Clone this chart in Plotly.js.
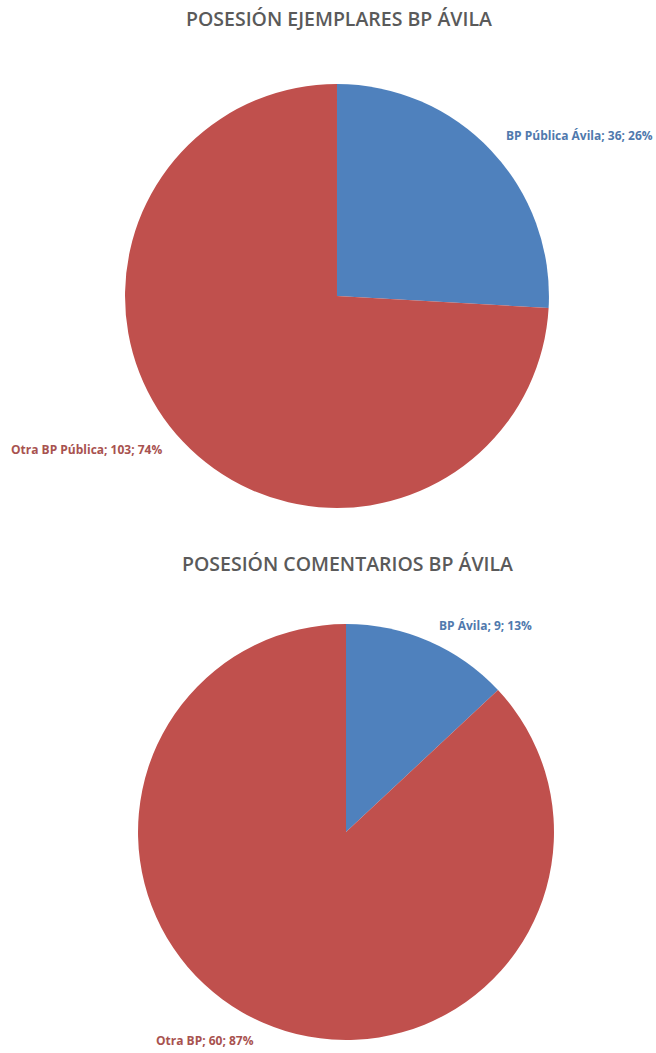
<!DOCTYPE html>
<html><head><meta charset="utf-8">
<script src="https://cdn.plot.ly/plotly-3.0.1.min.js"></script>
<style>html,body{margin:0;padding:0;background:#fff}#chart{width:656px;height:1053px}</style>
</head><body><div id="chart"></div>
<script>
// Chart 1
const title1 = "POSESIÓN EJEMPLARES BP ÁVILA";
const labels1 = ["BP Pública Ávila", "Otra BP Pública"];
const values1 = [36, 103];
// Chart 2
const title2 = "POSESIÓN COMENTARIOS BP ÁVILA";
const labels2 = ["BP Ávila", "Otra BP"];
const values2 = [9, 60];

const colors = ["#4f81bd", "#c0504d"];
const labelColors = ["#5079ad", "#a8524f"];

function labelText(labels, values, i) {
  const tot = values.reduce((a, b) => a + b, 0);
  return labels[i] + "; " + values[i] + "; " + Math.round(values[i] / tot * 100) + "%";
}

const pieBase = {
  type: "pie", sort: false, direction: "clockwise", rotation: 0,
  textinfo: "none", hoverinfo: "label+value+percent",
  marker: {colors: colors, line: {color: "#ffffff", width: 0}},
  showlegend: false
};

const data = [
  Object.assign({}, pieBase, {labels: labels1, values: values1,
    domain: {x: [0.1905, 0.8369], y: [0.5176, 0.9202]}}),
  Object.assign({}, pieBase, {labels: labels2, values: values2,
    domain: {x: [0.2104, 0.8445], y: [0.0123, 0.4074]}})
];

const lblFont = (c) => ({family: "Open Sans, sans-serif", size: 12, color: c, weight: 700});
const titleFont = {family: "Open Sans, sans-serif", size: 19.5, color: "#5a5a5a", weight: 600};

const annotations = [
  {text: title1, x: 339/656, y: 1 - 19/1053, font: titleFont},
  {text: title2, x: 347/656, y: 1 - 563/1053, font: titleFont},
  {text: labelText(labels1, values1, 0), x: 504/656, y: 1 - 135/1053, xanchor: "left", font: lblFont(labelColors[0])},
  {text: labelText(labels1, values1, 1), x: 9/656, y: 1 - 449/1053, xanchor: "left", font: lblFont(labelColors[1])},
  {text: labelText(labels2, values2, 0), x: 437/656, y: 1 - 625/1053, xanchor: "left", font: lblFont(labelColors[0])},
  {text: labelText(labels2, values2, 1), x: 154/656, y: 1 - 1040/1053, xanchor: "left", font: lblFont(labelColors[1])}
].map(a => Object.assign({xref: "paper", yref: "paper", showarrow: false, yanchor: "middle"}, a));

const layout = {
  width: 656, height: 1053,
  margin: {l: 0, r: 0, t: 0, b: 0},
  paper_bgcolor: "#ffffff",
  annotations: annotations
};

Plotly.newPlot("chart", data, layout, {displayModeBar: false, staticPlot: true});
</script></body></html>
